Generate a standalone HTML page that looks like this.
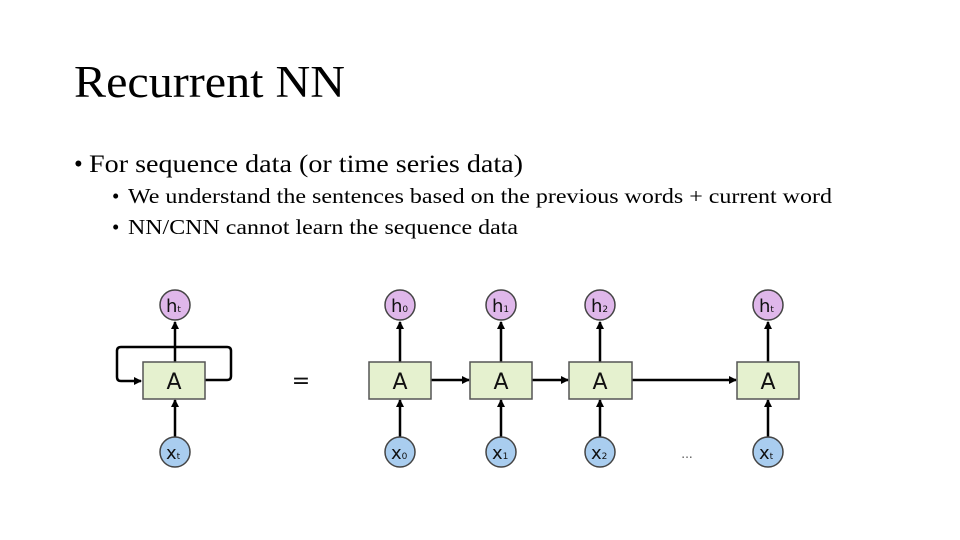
<!DOCTYPE html>
<html><head><meta charset="utf-8"><style>
html,body{margin:0;padding:0;background:#fff}
svg{display:block}
</style></head><body>
<svg width="960" height="540" viewBox="0 0 960 540" xmlns="http://www.w3.org/2000/svg">
<defs>
<marker id="ah" markerWidth="8" markerHeight="8" refX="7" refY="4" orient="auto" markerUnits="userSpaceOnUse">
<path d="M0,0 L8,4 L0,8 z" fill="#000"/></marker>
</defs>
<g font-family="Liberation Serif, serif" fill="#000">
<text x="74" y="97" font-size="45" textLength="271" lengthAdjust="spacingAndGlyphs">Recurrent NN</text>
<text x="74" y="172" font-size="25">•</text>
<text x="89" y="172" font-size="25" textLength="434" lengthAdjust="spacingAndGlyphs">For sequence data (or time series data)</text>
<text x="112" y="203" font-size="21">•</text>
<text x="128" y="203" font-size="21" textLength="704" lengthAdjust="spacingAndGlyphs">We understand the sentences based on the previous words + current word</text>
<text x="112" y="234" font-size="21">•</text>
<text x="128" y="234" font-size="21" textLength="390" lengthAdjust="spacingAndGlyphs">NN/CNN cannot learn the sequence data</text>
</g>
<g stroke="#000" stroke-width="2.5" fill="none">
<!-- left loop -->
<path d="M205,380 H227 Q231,380 231,376 V351 Q231,347 227,347 H121 Q117,347 117,351 V377 Q117,381 121,381 H141" marker-end="url(#ah)"/>
<line x1="175" y1="362" x2="175" y2="322" marker-end="url(#ah)"/>
<line x1="175" y1="437" x2="175" y2="400" marker-end="url(#ah)"/>
<line x1="400" y1="362" x2="400" y2="322" marker-end="url(#ah)"/>
<line x1="400" y1="437" x2="400" y2="400" marker-end="url(#ah)"/>
<line x1="501" y1="362" x2="501" y2="322" marker-end="url(#ah)"/>
<line x1="501" y1="437" x2="501" y2="400" marker-end="url(#ah)"/>
<line x1="600" y1="362" x2="600" y2="322" marker-end="url(#ah)"/>
<line x1="600" y1="437" x2="600" y2="400" marker-end="url(#ah)"/>
<line x1="768" y1="362" x2="768" y2="322" marker-end="url(#ah)"/>
<line x1="768" y1="437" x2="768" y2="400" marker-end="url(#ah)"/>
<line x1="431" y1="380" x2="469" y2="380" marker-end="url(#ah)"/>
<line x1="532" y1="380" x2="568" y2="380" marker-end="url(#ah)"/>
<line x1="632" y1="380" x2="736" y2="380" marker-end="url(#ah)"/>
</g>
<g stroke="#555" stroke-width="1.5" fill="#e5f1cf">
<rect x="143" y="362" width="62" height="37"/>
<rect x="369" y="362" width="62" height="37"/>
<rect x="470" y="362" width="62" height="37"/>
<rect x="569" y="362" width="63" height="37"/>
<rect x="737" y="362" width="62" height="37"/>
</g>
<g stroke="#444" stroke-width="1.5">
<circle cx="175" cy="305" r="15" fill="#dfb7ea"/>
<circle cx="400" cy="305" r="15" fill="#dfb7ea"/>
<circle cx="501" cy="305" r="15" fill="#dfb7ea"/>
<circle cx="600" cy="305" r="15" fill="#dfb7ea"/>
<circle cx="768" cy="305" r="15" fill="#dfb7ea"/>
<circle cx="175" cy="452" r="15" fill="#a9cdef"/>
<circle cx="400" cy="452" r="15" fill="#a9cdef"/>
<circle cx="501" cy="452" r="15" fill="#a9cdef"/>
<circle cx="600" cy="452" r="15" fill="#a9cdef"/>
<circle cx="768" cy="452" r="15" fill="#a9cdef"/>
</g>
<g font-family="DejaVu Sans, sans-serif" fill="#111">
<g font-size="22" text-anchor="middle">
<text x="174" y="389">A</text><text x="400" y="389">A</text><text x="501" y="389">A</text><text x="600" y="389">A</text><text x="768" y="389">A</text>
</g>
<g font-size="18">
<text x="166" y="312">h<tspan font-size="9">t</tspan></text>
<text x="391" y="312">h<tspan font-size="9">0</tspan></text>
<text x="492" y="312">h<tspan font-size="9">1</tspan></text>
<text x="591" y="312">h<tspan font-size="9">2</tspan></text>
<text x="759" y="312">h<tspan font-size="9">t</tspan></text>
<text x="166" y="459">x<tspan font-size="9">t</tspan></text>
<text x="391" y="459">x<tspan font-size="9">0</tspan></text>
<text x="492" y="459">x<tspan font-size="9">1</tspan></text>
<text x="591" y="459">x<tspan font-size="9">2</tspan></text>
<text x="759" y="459">x<tspan font-size="9">t</tspan></text>
</g>
<text x="301" y="388" font-size="22" text-anchor="middle">=</text>
<text x="687" y="458" font-size="12" text-anchor="middle" fill="#555">...</text>
</g>
</svg>
</body></html>
